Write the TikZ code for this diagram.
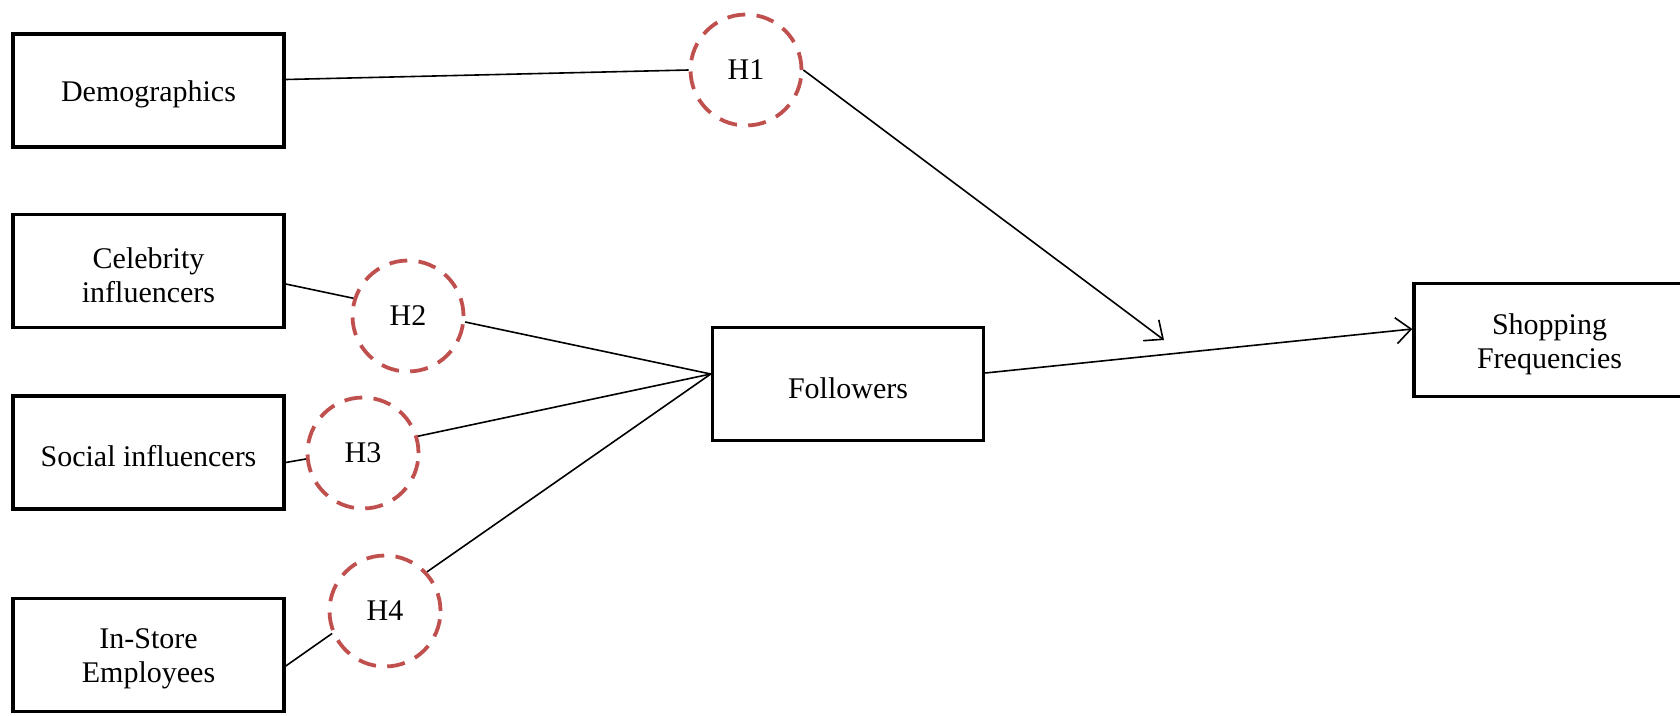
\documentclass[tikz,border=0pt]{standalone}
\usepackage{fontspec}
\setmainfont{Liberation Serif}
\usetikzlibrary{arrows.meta,calc}
\definecolor{hred}{HTML}{C0504D}
\begin{document}
\begin{tikzpicture}[x=1pt,y=-1pt,
  box/.style={draw=black,line width=3.5pt,minimum width=271pt,minimum height=113pt,inner sep=0pt},
  lbl/.style={align=center,inner sep=0pt,yshift=-4pt,font=\fontsize{30}{34}\selectfont},
  hyp/.style={draw=hred,line width=3.8pt,dash pattern=on 18pt off 11.3pt,circle,minimum size=111pt,inner sep=0pt,font=\fontsize{30}{34}\selectfont},
  link/.style={draw=black,line width=1.6pt},
  arr/.style={link,-{Straight Barb[length=15pt,width=26pt,line width=1.6pt]}}]
\useasboundingbox (0,0) rectangle (1680,715);
\node[box,label={[lbl]center:Demographics}] (D) at (148.5,90.5) {};
\node[box,label={[lbl]center:Celebrity\\influencers}] (C) at (148.5,271) {};
\node[box,label={[lbl]center:Social influencers}] (S) at (148.5,452.5) {};
\node[box,label={[lbl]center:In-Store\\Employees}] (I) at (148.5,655) {};
\node[box,label={[lbl]center:Followers}] (F) at (848,384) {};
\node[box,label={[lbl]center:Shopping\\Frequencies}] (P) at (1549.5,340) {};
\node[hyp] (H1) at (746,70) {H1};
\node[hyp] (H2) at (408,316) {H2};
\node[hyp] (H3) at (363,453) {H3};
\node[hyp] (H4) at (385,611) {H4};
\coordinate (tip) at (1164,340);
\coordinate (Fin) at ($(F.west)+(0,-10)$);
\draw[link] ($(D.east)+(0,-11)$) -- (H1.west);
\draw[arr] (H1.east) -- (tip);
\draw[link] ($(C.east)+(0,13)$) -- (H2.162);
\draw[link] (H2.-6) -- (Fin);
\draw[link] ($(S.east)+(0,10)$) -- (H3.186);
\draw[link] (H3.17) -- (Fin);
\draw[link] ($(I.east)+(0,11)$) -- (H4.203);
\draw[link] (H4.43) -- (Fin);
\draw[arr] ($(F.east)+(0,-11)$) -- ($(P.west)+(0,-11)$);
\end{tikzpicture}
\end{document}
